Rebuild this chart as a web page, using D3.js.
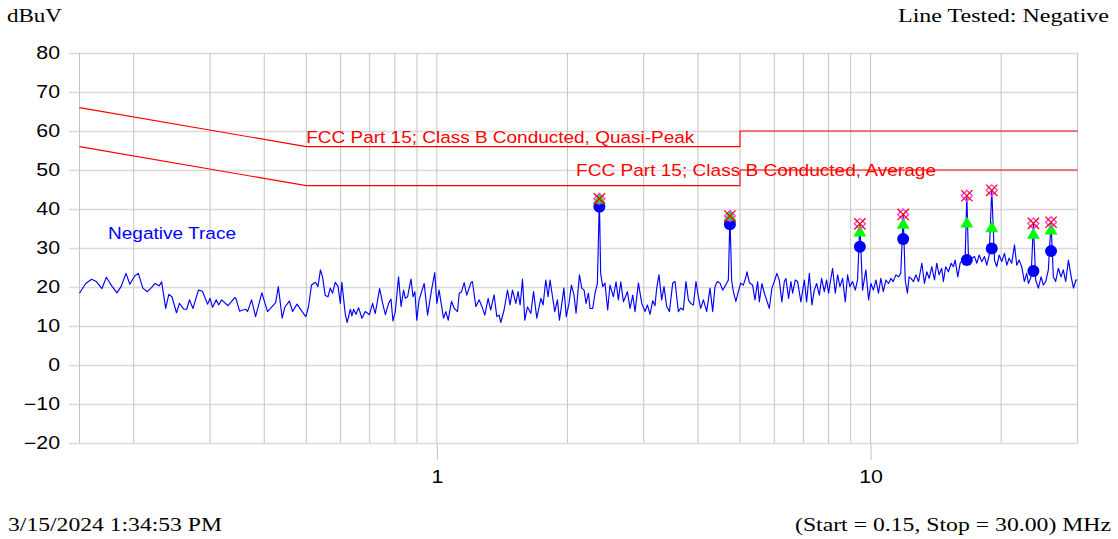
<!DOCTYPE html>
<html><head><meta charset="utf-8">
<script src="https://cdn.jsdelivr.net/npm/d3@7"></script>
<style>html,body{margin:0;padding:0;background:#fff;overflow:hidden}</style>
</head><body><svg id="c" width="1118" height="539"></svg>
<script>
// ---- Data (MHz, dBuV) ----
const traceFreq = [
0.150,0.155,0.160,0.164,0.169,0.173,0.178,0.183,0.187,0.192,0.196,0.201,0.205,0.210,0.215,0.220,0.224,0.229,0.232,0.237,
0.241,0.245,0.251,0.255,0.261,0.265,0.269,0.274,0.282,0.288,0.296,0.300,0.304,0.310,0.314,0.319,0.330,0.342,0.344,0.351,
0.357,0.363,0.366,
0.374,0.382,0.395,0.407,0.425,0.431,0.440,0.446,0.457,0.465,0.476,0.489,0.499,0.506,0.514,0.525,0.532,0.539,0.545,0.553,
0.561,0.568,0.575,0.583,0.592,0.599,0.604,0.615,0.621,0.632,0.637,0.643,0.651,0.660,0.672,0.684,0.699,0.711,0.721,0.738,
0.750,0.761,0.774,0.784,0.792,0.802,0.816,0.827,0.838,0.846,0.856,0.865,0.872,0.881,
0.890,0.899,0.910,0.935,0.952,0.972,0.989,1.000,1.012,1.036,1.049,1.062,1.081,1.096,1.116,1.126,1.140,1.156,1.172,1.198,
1.208,1.230,1.252,1.274,1.290,1.313,1.331,1.355,1.375,1.392,1.404,1.429,1.455,1.475,1.494,1.521,1.539,1.556,1.576,1.595,
1.618,1.647,1.671,1.700,1.737,1.758,1.783,1.805,1.824,1.848,1.870,1.897,1.917,1.937,1.963,1.988,2.017,2.043,2.071,2.094,
2.132,2.158,2.185,2.208,2.236,2.255,2.288,2.316,2.345,2.370,2.386,2.412,2.441,2.477,2.507,2.553,2.589,2.622,2.655,2.693,
2.750,2.789,2.829,2.864,2.916,2.968,3.020,3.059,3.101,3.146,3.184,3.213,3.252,3.299,3.340,3.388,3.437,3.498,3.541,3.573,
3.605,3.649,3.701,3.753,3.802,3.849,3.904,3.958,4.009,4.058,4.117,4.190,4.264,4.325,4.379,4.435,4.497,4.560,4.634,4.700,
4.740,4.783,4.826,4.892,4.956,5.018,5.090,5.160,
5.188,5.254,5.346,5.413,5.491,5.540,5.617,5.689,5.759,5.841,5.923,5.998,6.082,6.159,6.245,6.327,6.380,6.472,6.552,6.611,
6.706,6.788,6.908,7.035,7.121,7.225,7.325,7.418,7.510,7.618,7.711,7.823,7.919,8.002,8.101,8.173,8.293,8.395,8.498,8.620,
8.744,8.851,8.960,9.089,9.220,9.333,9.448,9.584,9.754,9.895,10.02,10.15,10.29,10.43,10.56,10.70,10.85,11.00,11.14,11.28,
11.44,11.60,11.74,11.89,12.02,12.16,12.27,
12.40,12.56,12.72,12.90,13.13,13.31,13.48,13.65,13.84,14.04,14.21,14.39,14.59,14.72,14.90,15.12,15.34,15.52,15.67,15.89,
16.09,16.29,16.52,16.67,16.82,17.12,17.37,17.58,17.80,18.05,18.31,18.53,18.77,19.03,19.31,19.54,19.79,20.07,20.36,20.61,
20.87,21.16,21.47,21.73,22.01,22.31,22.63,22.91,23.12,23.45,23.74,24.03,24.37,24.73,25.03,25.34,25.70,26.07,26.39,26.71,
27.10,27.49,27.82,28.18,28.59,29.01,29.37,29.74,30.00
];
const traceLevel = [
18.4,20.9,22.0,21.4,19.6,22.5,20.3,18.5,20.1,23.5,20.7,22.8,23.5,19.7,18.8,19.9,20.9,20.3,21.3,14.5,
18.1,17.5,13.4,15.8,14.3,14.3,16.7,14.5,19.2,18.9,15.6,17.1,14.8,16.7,15.4,16.7,15.2,17.3,17.1,13.8,
14.1,14.3,13.7,
16.7,12.4,18.5,13.7,16.0,20.1,12.0,14.8,16.4,13.7,15.6,13.7,12.4,15.0,20.5,21.2,20.1,24.4,22.6,17.8,
17.5,19.7,18.4,21.2,20.1,15.8,21.2,13.0,10.9,14.3,12.6,14.3,13.0,14.7,12.0,13.7,12.9,15.8,13.2,19.6,
15.8,12.9,15.8,16.9,11.3,13.6,22.6,15.0,19.2,17.1,17.5,20.1,22.0,17.5,
18.8,11.5,16.7,20.9,12.8,19.2,23.7,15.8,19.2,12.0,13.7,11.5,16.3,14.6,13.7,18.4,18.8,21.1,17.9,21.1,
21.4,15.0,16.7,14.6,12.8,17.1,14.1,18.0,12.4,12.8,10.9,14.1,19.2,15.4,19.2,15.8,18.8,15.4,22.0,11.5,
14.9,13.2,18.8,12.0,17.1,15.4,21.8,17.5,21.8,17.5,13.7,16.7,11.5,14.9,19.7,12.4,15.8,20.5,18.0,13.3,
23.1,19.7,19.2,15.8,18.4,14.5,14.5,18.4,20.9,42.6,23.5,20.1,21.0,14.1,20.5,17.5,21.3,16.7,21.3,16.2,
18.8,14.5,17.9,13.7,21.0,15.8,13.7,15.4,13.0,16.5,15.2,19.7,23.1,16.7,20.1,15.0,13.7,21.0,21.4,17.5,
13.7,14.6,14.1,21.4,16.7,15.8,15.4,21.4,17.5,14.5,16.7,13.7,19.7,13.7,20.1,21.4,21.0,19.2,20.5,21.8,
38.2,21.8,18.8,16.3,18.8,21.0,20.5,22.6,
23.9,21.1,20.5,16.7,21.4,16.2,20.9,18.4,16.7,14.5,19.7,21.4,23.5,21.8,16.2,21.4,22.2,17.1,21.4,18.4,
21.8,21.4,16.2,21.8,16.2,23.5,15.4,19.2,20.9,17.9,22.2,18.8,21.8,18.4,22.2,24.8,18.4,23.1,20.1,22.2,
16.2,23.1,20.1,21.4,19.2,21.8,36.2,19.2,24.4,16.7,20.9,19.2,21.8,18.4,22.2,18.8,21.8,20.9,22.2,21.4,
23.1,22.6,23.5,38.6,21.8,18.4,22.6,
22.2,21.4,23.1,21.4,26.1,20.9,23.9,22.2,25.2,21.8,26.1,23.1,24.8,21.4,25.2,23.9,26.1,25.2,26.9,22.6,
26.1,26.9,26.9,43.4,26.9,27.4,27.8,26.1,28.2,26.5,27.8,25.6,28.2,44.8,26.9,25.2,28.2,26.5,28.6,25.6,
27.4,26.1,30.8,25.6,26.9,25.2,21.4,23.5,20.9,22.6,36.3,21.8,19.7,22.6,20.5,21.4,24.4,36.6,22.6,21.4,
24.8,22.6,24.4,21.4,26.9,22.6,19.7,21.8,21.8
];
const limitFreq = [0.15, 0.5, 5, 5, 30];
const qpLimit   = [66, 56, 56, 60, 60];
const avgLimit  = [56, 46, 46, 50, 50];
const markerFreq = [2.37, 4.74, 9.448, 11.89, 16.67, 19.03, 23.74, 26.07];
const markerQP   = [42.6, 38.2, 36.2, 38.6, 43.4, 44.8, 36.3, 36.6];
const markerAvg  = [42.3, 37.9, 33.9, 35.9, 36.2, 35.0, 33.3, 34.4];
const markerMeas = [40.6, 36.1, 30.3, 32.3, 26.9, 29.9, 24.1, 29.2];
const yTicks = [-20, -10, 0, 10, 20, 30, 40, 50, 60, 70, 80];
const xTickLabels = [1, 10];
const gridFreq = [0.15, 0.2, 0.3, 0.4, 0.5, 0.6, 0.7, 0.8, 0.9, 1, 2, 3, 4, 5, 6, 7, 8, 9, 10, 20, 30];
const qpLabel = "FCC Part 15; Class B Conducted, Quasi-Peak";
const avgLabel = "FCC Part 15; Class B Conducted, Average";

// ---- Chart ----
const svg = d3.select("#c");
const x = d3.scaleLog().domain([0.15, 30]).range([79.5, 1077.5]);
const y = d3.scaleLinear().domain([-20, 80]).range([443, 53]);
const SANS = "'Liberation Sans', Arial, sans-serif";
const SERIF = "'Liberation Serif', 'Times New Roman', serif";
const SX = 1.22;

// horizontal grid + y labels
const yAxis = svg.append("g").attr("transform", "translate(69,0)")
  .call(d3.axisLeft(y).tickValues(yTicks).tickSize(-(x(30) - 69)).tickPadding(9).tickFormat(d3.format("d")));
yAxis.select(".domain").remove();
yAxis.attr("font-family", SANS).attr("font-size", 17.5);
yAxis.selectAll(".tick line").attr("stroke", "#dadada").attr("stroke-width", 1.7);
yAxis.selectAll(".tick text").attr("fill", "#000").attr("x", -9 / SX).attr("transform", `scale(${SX},1)`);

// vertical grid
svg.append("g").selectAll("line").data(gridFreq).join("line")
  .attr("x1", d => x(d)).attr("x2", d => x(d))
  .attr("y1", y(80)).attr("y2", y(-20))
  .attr("stroke", "#c4c4c4").attr("stroke-width", 1);

// x axis
const xAxis = svg.append("g").attr("transform", `translate(0,${y(-20)})`)
  .call(d3.axisBottom(x).tickValues(xTickLabels).tickSize(17).tickPadding(11).tickFormat(d3.format("d")));
xAxis.select(".domain").remove();
xAxis.attr("font-family", SANS).attr("font-size", 17.5);
xAxis.selectAll(".tick line").attr("stroke", "#c4c4c4");
xAxis.selectAll(".tick text").attr("fill", "#000").attr("transform", `scale(${SX},1)`);

// limit lines
const limLine = arr => d3.line().x((d, i) => x(limitFreq[i])).y((d, i) => y(arr[i]))(arr);
svg.append("path").attr("d", limLine(qpLimit)).attr("fill", "none").attr("stroke", "#ff0000").attr("stroke-width", 1.1);
svg.append("path").attr("d", limLine(avgLimit)).attr("fill", "none").attr("stroke", "#ff0000").attr("stroke-width", 1.1);

svg.append("text").text(qpLabel).attr("x", x(0.5)).attr("y", 143)
  .attr("font-family", SANS).attr("font-size", 16.8).attr("fill", "#ff0000")
  .attr("textLength", 388).attr("lengthAdjust", "spacingAndGlyphs");
svg.append("text").text(avgLabel).attr("x", 576).attr("y", 176)
  .attr("font-family", SANS).attr("font-size", 16.8).attr("fill", "#ff0000")
  .attr("textLength", 360).attr("lengthAdjust", "spacingAndGlyphs");

// trace
const trace = d3.line().x((d, i) => x(traceFreq[i])).y(d => y(d));
svg.append("path").attr("d", trace(traceLevel)).attr("fill", "none")
  .attr("stroke", "#0000ff").attr("stroke-width", 1.15).attr("stroke-linejoin", "round");

svg.append("text").text("Negative Trace").attr("x", 108).attr("y", 239)
  .attr("font-family", SANS).attr("font-size", 16.8).attr("fill", "#0000ff")
  .attr("textLength", 128).attr("lengthAdjust", "spacingAndGlyphs");

// markers
svg.append("g").selectAll("circle").data(markerFreq).join("circle")
  .attr("cx", d => x(d)).attr("cy", (d, i) => y(markerMeas[i])).attr("r", 6).attr("fill", "#0000ff");
svg.append("g").selectAll("path").data(markerFreq).join("path")
  .attr("transform", (d, i) => `translate(${x(d)},${y(markerAvg[i])})`)
  .attr("d", d3.symbol(d3.symbolTriangle, 72)()).attr("fill", "#00ff00");
const qp = svg.append("g").selectAll("g").data(markerFreq).join("g")
  .attr("transform", (d, i) => `translate(${x(d)},${y(markerQP[i])})`);
qp.append("path").attr("d", d3.symbol(d3.symbolSquare, 60)()).attr("transform", "rotate(45)")
  .attr("fill", "none").attr("stroke", "#ff33ff").attr("stroke-width", 1.3);
qp.append("path").attr("d", d3.symbol(d3.symbolX, 85)())
  .attr("fill", "none").attr("stroke", "#ff0000").attr("stroke-width", 1.3);

// header / footer texts
const t = (s, xx, yy, len) => svg.append("text").text(s).attr("x", xx).attr("y", yy)
  .attr("font-family", SERIF).attr("font-size", 19.5).attr("fill", "#000")
  .attr("textLength", len).attr("lengthAdjust", "spacingAndGlyphs");
t("dBuV", 7, 22, 55);
t("Line Tested: Negative", 898, 22, 211);
t("3/15/2024 1:34:53 PM", 8, 531, 214);
t("(Start = 0.15, Stop = 30.00) MHz", 795, 531, 316);
</script></body></html>
